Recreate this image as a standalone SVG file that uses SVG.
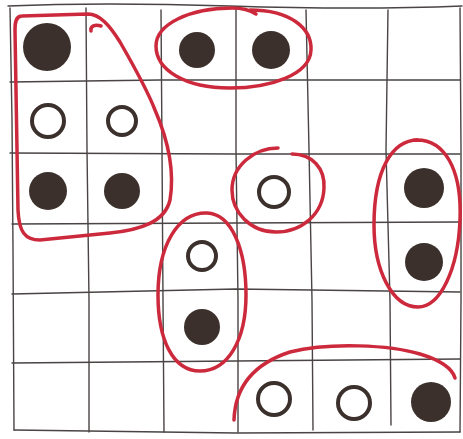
<svg xmlns="http://www.w3.org/2000/svg" width="463" height="439" viewBox="0 0 463 439">
<style>
.g{fill:none;stroke:#4a4444;stroke-width:1.4;stroke-linecap:round}
.r{fill:none;stroke:#cc2a3c;stroke-width:3.5;stroke-linecap:round;stroke-linejoin:round}
.f{fill:#3b302c}
.h{fill:none;stroke:#3b302c;stroke-width:4}
</style>
<rect width="463" height="439" fill="#ffffff"/>
<g id="grid">
<path class="g" d="M10,8 L12,120 L13,250 L14,430"/>
<path class="g" d="M86,8 L87,150 L89,300 L89,432"/>
<path class="g" d="M161,10 L162,150 L163,300 L164,432"/>
<path class="g" d="M236,8 L236,150 L238,300 L238,432"/>
<path class="g" d="M306,10 L309,150 L312,300 L313,430"/>
<path class="g" d="M388,10 L386,150 L390,300 L391,425"/>
<path class="g" d="M460,8 L461,150 L461,300 L460,432"/>
<path class="g" d="M8,6 Q100,2 230,6 T462,6"/>
<path class="g" d="M10,82 L160,80 L310,80 L460,80"/>
<path class="g" d="M10,153 L236,154 L460,154"/>
<path class="g" d="M12,224 L236,223 L460,222"/>
<path class="g" d="M12,294 L236,289 L460,292"/>
<path class="g" d="M12,363 L236,361 L460,359"/>
<path class="g" d="M14,430 L236,433 L460,432"/>
</g>
<g id="dots">
<circle class="f" cx="47" cy="47" r="24"/>
<circle class="h" cx="48" cy="121" r="16"/>
<circle class="h" cx="122" cy="121" r="14"/>
<circle class="f" cx="48" cy="191" r="19"/>
<circle class="f" cx="122" cy="191" r="18"/>
<circle class="f" cx="197" cy="50" r="18"/>
<circle class="f" cx="271" cy="50" r="19"/>
<circle class="h" cx="274" cy="192" r="15"/>
<circle class="f" cx="424" cy="188" r="20"/>
<circle class="f" cx="424" cy="262" r="19"/>
<circle class="h" cx="202" cy="256" r="14"/>
<circle class="f" cx="202" cy="327" r="18"/>
<circle class="h" cx="274" cy="399" r="16"/>
<circle class="h" cx="354" cy="403" r="16"/>
<circle class="f" cx="431" cy="402" r="20"/>
</g>
<g id="loops">
<path class="r" d="M22,16 L88,14 C100,14 110,26 120,42 C135,68 148,92 155,110 C168,140 175,170 170,200 C165,222 140,230 110,233 L40,240 C25,240 19,232 18,210 L15,30 C15,22 16,16 22,16"/>
<path class="r" d="M91,31 C90,26 95,24 101,26"/>
<path class="r" d="M250,10 C290,10 312,28 311,50 C310,75 270,88 230,88 C185,88 156,70 156,46 C156,24 190,8 232,8 C242,8 250,10 256,14"/>
<path class="r" d="M292,154 C312,154 325,168 324,188 C323,214 302,232 276,232 C250,232 232,212 232,190 C232,166 254,148 278,148"/>
<path class="r" d="M414,140 C445,138 462,170 460,220 C458,270 440,307 418,307 C392,307 374,270 374,225 C374,170 392,140 418,140"/>
<path class="r" d="M207,213 C232,214 246,250 246,295 C246,340 228,371 200,371 C173,371 158,340 158,295 C158,245 178,212 207,213"/>
<path class="r" d="M234,420 C235,390 250,365 290,352 C330,342 390,345 420,354 C440,360 452,368 455,378"/>
</g>
</svg>
